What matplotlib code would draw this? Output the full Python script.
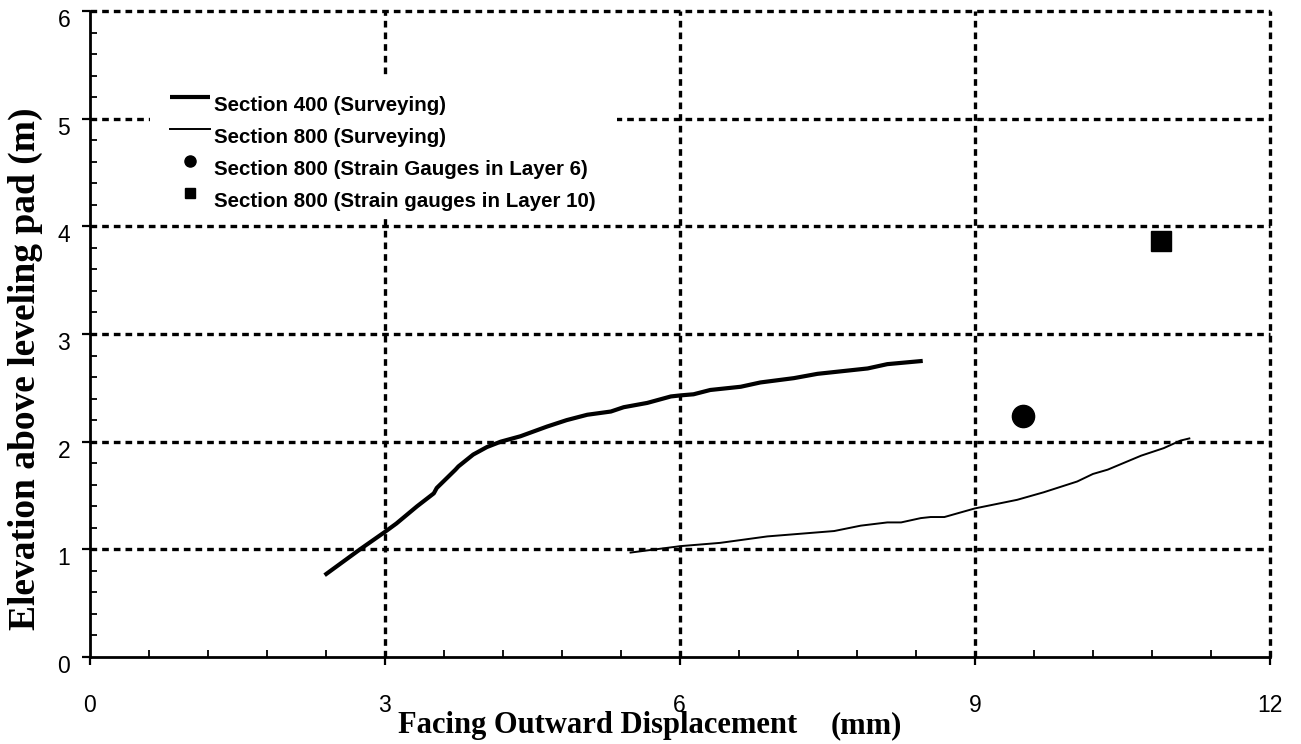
import numpy as np
import matplotlib
matplotlib.use("Agg")
import matplotlib.pyplot as plt
import matplotlib.transforms as mtransforms
from matplotlib.ticker import MultipleLocator
from matplotlib.legend_handler import HandlerLine2D
from matplotlib.patches import Rectangle

# ---- data ----
s400_x = [2.39, 2.75, 3.0, 3.12, 3.33, 3.50, 3.53, 3.72, 3.75, 3.90, 4.04, 4.18, 4.38,
          4.65, 4.85, 5.06, 5.30, 5.43, 5.67, 5.91, 6.01, 6.14, 6.31, 6.62, 6.82, 7.16,
          7.40, 7.91, 8.11, 8.47]
s400_y = [0.76, 1.0, 1.16, 1.24, 1.40, 1.52, 1.57, 1.74, 1.77, 1.88, 1.95, 2.0, 2.05,
          2.14, 2.20, 2.25, 2.28, 2.32, 2.36, 2.42, 2.43, 2.44, 2.48, 2.51, 2.55, 2.59,
          2.63, 2.68, 2.72, 2.75]
s800_x = [5.50, 6.01, 6.41, 6.89, 7.57, 7.84, 8.11, 8.25, 8.45, 8.55, 8.69, 9.0, 9.43,
          9.70, 10.04, 10.20, 10.35, 10.69, 10.92, 11.09, 11.18]
s800_y = [0.97, 1.03, 1.06, 1.12, 1.17, 1.22, 1.25, 1.25, 1.29, 1.30, 1.30, 1.38, 1.46,
          1.53, 1.63, 1.70, 1.74, 1.87, 1.94, 2.01, 2.03]
gauge6_x = [9.49]
gauge6_y = [2.24]
gauge10_x = [10.89]
gauge10_y = [3.86]

labels = ["Section 400 (Surveying)", "Section 800 (Surveying)",
          "Section 800 (Strain Gauges in Layer 6)", "Section 800 (Strain gauges in Layer 10)"]
x_ticks = [0, 3, 6, 9, 12]
y_ticks = [0, 1, 2, 3, 4, 5, 6]

plt.rcParams["font.family"] = ["Liberation Sans", "DejaVu Sans"]
plt.rcParams["xtick.labelsize"] = 16.5
plt.rcParams["ytick.labelsize"] = 16.5

W, H = 1301, 744
fig = plt.figure(figsize=(W / 100, H / 100), dpi=100)
ax = fig.add_axes([89.5 / W, (H - 657) / H, (1270 - 89.5) / W, (657 - 11) / H])

l1, = ax.plot(s400_x, s400_y, color="black", lw=3.0, solid_capstyle="butt", zorder=3)
l2, = ax.plot(s800_x, s800_y, color="black", lw=1.4, zorder=3)
l3, = ax.plot(gauge6_x, gauge6_y, ls="none", marker="o", ms=16, color="black", zorder=3)
l4, = ax.plot(gauge10_x, gauge10_y, ls="none", marker="s", ms=14, color="black",
              markeredgecolor="black", zorder=3)

ax.set_xlim(0, 12)
ax.set_ylim(0, 6)
ax.set_xticks(x_ticks)
ax.set_yticks(y_ticks)
ax.xaxis.set_minor_locator(MultipleLocator(0.6))
ax.yaxis.set_minor_locator(MultipleLocator(0.2))

ax.grid(True, which="major", color="black", lw=2.4, linestyle=(0, (2.0, 1.5)),
        dash_capstyle="butt")
for gl in ax.get_xgridlines() + ax.get_ygridlines():
    gl.set_clip_on(False)
ax.get_xgridlines()[0].set_visible(False)
ax.get_ygridlines()[0].set_visible(False)
ax.set_axisbelow(True)

for s in ["top", "right"]:
    ax.spines[s].set_visible(False)
for s in ["left", "bottom"]:
    ax.spines[s].set_linewidth(2.0)

ax.tick_params(axis="both", which="major", direction="out", length=5.8, width=1.6)
ax.tick_params(axis="both", which="minor", direction="in", length=5, width=1.3)
ax.tick_params(axis="x", which="major", pad=21)
ax.tick_params(axis="y", which="major", pad=8)
offset = mtransforms.ScaledTranslation(0, -5 / 72, fig.dpi_scale_trans)
for lab in ax.get_yticklabels():
    lab.set_transform(lab.get_transform() + offset)

# white backing of the legend area (hides gridlines there)
ax.add_patch(Rectangle((150 / W, (H - 217) / H), 467 / W, 139 / H,
                       transform=fig.transFigure, facecolor="white", edgecolor="none",
                       zorder=4, clip_on=False))


class ShiftHandler(HandlerLine2D):
    def create_artists(self, legend, orig_handle, xdescent, ydescent, width, height,
                       fontsize, trans):
        return super().create_artists(legend, orig_handle, xdescent, ydescent - 10,
                                      width, height, fontsize, trans)


leg = ax.legend([l1, l2, l3, l4], labels, loc="upper left",
                bbox_to_anchor=(170 / W, (H - 96) / H), bbox_transform=fig.transFigure,
                prop={"family": "Liberation Sans", "weight": "bold", "size": 14.8},
                frameon=False, borderpad=0, borderaxespad=0, labelspacing=0.64,
                handlelength=1.95, handletextpad=0.2, numpoints=1, markerscale=0.5,
                handler_map={l: ShiftHandler() for l in [l1, l2, l3, l4]})
leg.set_zorder(5)

fig.text(398 / W, (H - 733) / H, "Facing Outward Displacement", family="Liberation Serif",
         weight="bold", size=22, ha="left", va="baseline")
fig.text(902 / W, (H - 733) / H, "(mm)", family="Liberation Serif",
         weight="bold", size=22, ha="right", va="baseline")
fig.text(25 / W, (H - 369) / H, "Elevation above leveling pad (m)", family="Liberation Serif",
         weight="bold", size=27, rotation=90, ha="center", va="center")

fig.savefig("out.png", dpi=100)
